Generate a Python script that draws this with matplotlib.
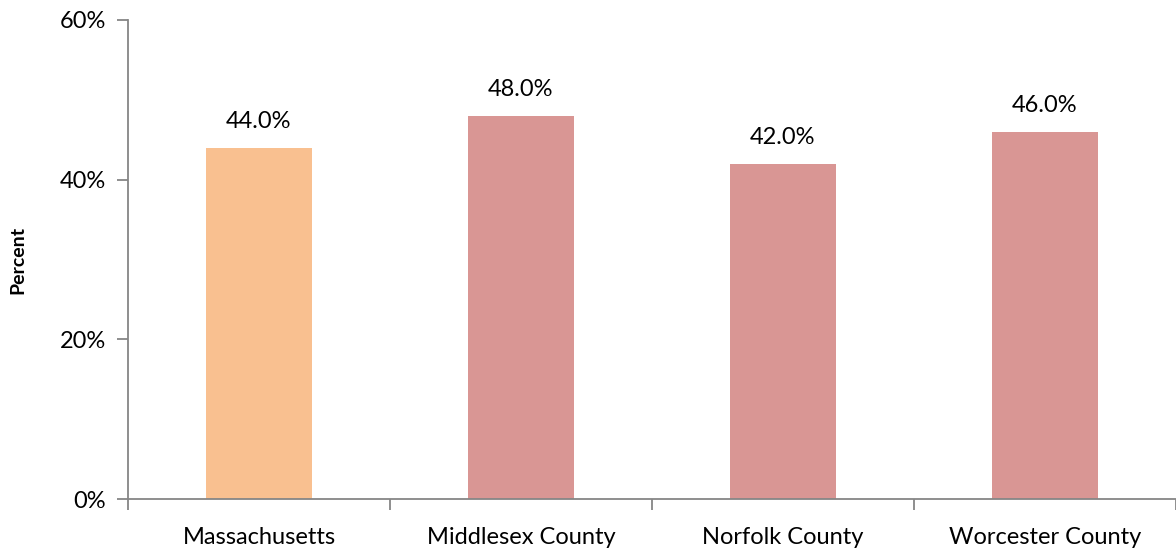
import matplotlib

matplotlib.use("Agg")
import matplotlib.pyplot as plt
from matplotlib.ticker import FuncFormatter, FixedLocator

plt.rcParams["font.family"] = ["Lato", "DejaVu Sans"]

categories = ["Massachusetts", "Middlesex County", "Norfolk County", "Worcester County"]
values = [44.0, 48.0, 42.0, 46.0]
colors = ["#F9C090", "#D99694", "#D99694", "#D99694"]
yticks = [0, 20, 40, 60]

fig = plt.figure(figsize=(11.76, 5.48), dpi=100)
ax = fig.add_axes([128 / 1176, 1 - 499 / 548, 1 - 128 / 1176, (499 - 20) / 548])

x = list(range(len(categories)))
bars = ax.bar(x, values, width=0.405, color=colors)
for b, v in zip(bars, values):
    ax.text(b.get_x() + b.get_width() / 2, v + 2.0, f"{v:.1f}%",
            ha="center", va="bottom", fontsize=17, color="black")

ax.set_xlim(-0.5, len(categories) - 0.5)
ax.set_ylim(0, 60)
ax.set_yticks(yticks)
ax.yaxis.set_major_formatter(FuncFormatter(lambda v, _: f"{v:.0f}%"))
ax.set_xticks(x)
ax.set_xticklabels(categories)
ax.xaxis.set_minor_locator(FixedLocator([i - 0.5 for i in range(len(categories) + 1)]))
ax.tick_params(axis="x", which="major", length=0, pad=20, labelsize=17)
ax.tick_params(axis="x", which="minor", length=8, color="#868686", width=1.3)
ax.tick_params(axis="y", length=8, color="#868686", width=1.3, labelsize=17, pad=8)
ax.set_ylabel("Percent", fontsize=14, fontweight="bold")
ax.yaxis.set_label_coords(-0.097, 0.5)

for s in ("top", "right"):
    ax.spines[s].set_visible(False)
for s in ("left", "bottom"):
    ax.spines[s].set_color("#868686")
    ax.spines[s].set_linewidth(1.3)

fig.savefig("out.png", dpi=100)
